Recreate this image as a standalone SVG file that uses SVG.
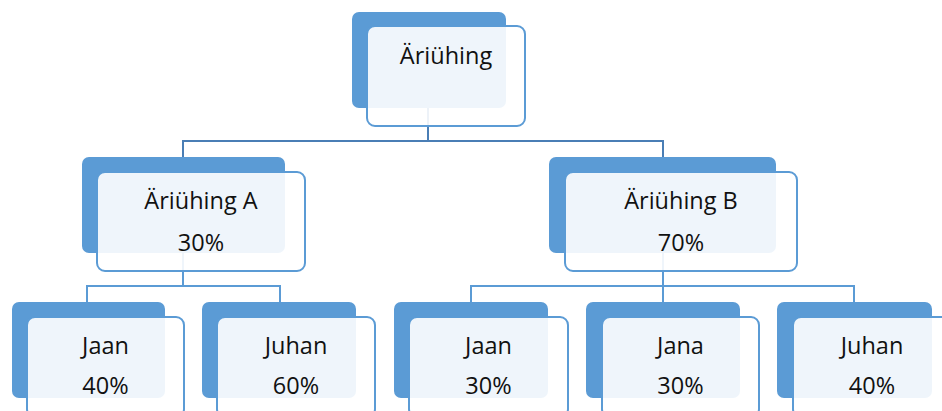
<svg xmlns="http://www.w3.org/2000/svg" width="942" height="411" viewBox="0 0 942 411">
<style>
.back{fill:#5B9BD5}
.front{fill:#FFFFFF;fill-opacity:0.9;stroke:#5B9BD5;stroke-width:2}
.t{font-family:"Open Sans","Liberation Sans",sans-serif;font-size:23.5px;fill:#111111;text-anchor:middle}
.c1{fill:none;stroke:#4A7EB5;stroke-width:2}
.c2{fill:none;stroke:#5B9BD5;stroke-width:2}
</style>
<rect width="942" height="411" fill="#FFFFFF"/>
<g id="connectors">
<path class="c1" d="M428 108V141M183 157V141H663V157"/>
<path class="c2" d="M183 253V286M87 302V286H280V302"/>
<path class="c2" d="M663 253V286M471 302V286H854V302M663 286V302"/>
</g>
<g id="n0">
<rect class="back" x="352" y="12" width="154" height="96" rx="7"/>
<rect class="front" x="367" y="26" width="158" height="100" rx="8"/>
<text class="t" x="446" y="64">Äriühing</text>
</g>
<g id="nA">
<rect class="back" x="82" y="157" width="203" height="96" rx="7"/>
<rect class="front" x="97" y="172" width="208" height="99" rx="8"/>
<text class="t" x="201" y="209">Äriühing A</text>
<text class="t" x="201" y="251">30%</text>
</g>
<g id="nB">
<rect class="back" x="549" y="157" width="227" height="96" rx="7"/>
<rect class="front" x="565" y="172" width="232" height="99" rx="8"/>
<text class="t" x="681" y="209">Äriühing B</text>
<text class="t" x="681" y="251">70%</text>
</g>
<g id="nA1">
<rect class="back" x="12" y="302" width="153" height="96" rx="7"/>
<rect class="front" x="27" y="317" width="157" height="100" rx="8"/>
<text class="t" x="105.5" y="354">Jaan</text>
<text class="t" x="105.5" y="394">40%</text>
</g>
<g id="nA2">
<rect class="back" x="202" y="302" width="154" height="96" rx="7"/>
<rect class="front" x="217" y="317" width="158" height="100" rx="8"/>
<text class="t" x="296" y="354">Juhan</text>
<text class="t" x="296" y="394">60%</text>
</g>
<g id="nB1">
<rect class="back" x="394" y="302" width="154" height="96" rx="7"/>
<rect class="front" x="409" y="317" width="159" height="100" rx="8"/>
<text class="t" x="488.5" y="354">Jaan</text>
<text class="t" x="488.5" y="394">30%</text>
</g>
<g id="nB2">
<rect class="back" x="586" y="302" width="154" height="96" rx="7"/>
<rect class="front" x="602" y="317" width="157" height="100" rx="8"/>
<text class="t" x="680.5" y="354">Jana</text>
<text class="t" x="680.5" y="394">30%</text>
</g>
<g id="nB3">
<rect class="back" x="777" y="302" width="155" height="96" rx="7"/>
<rect class="front" x="793" y="317" width="158" height="100" rx="8"/>
<text class="t" x="872" y="354">Juhan</text>
<text class="t" x="872" y="394">40%</text>
</g>
</svg>
